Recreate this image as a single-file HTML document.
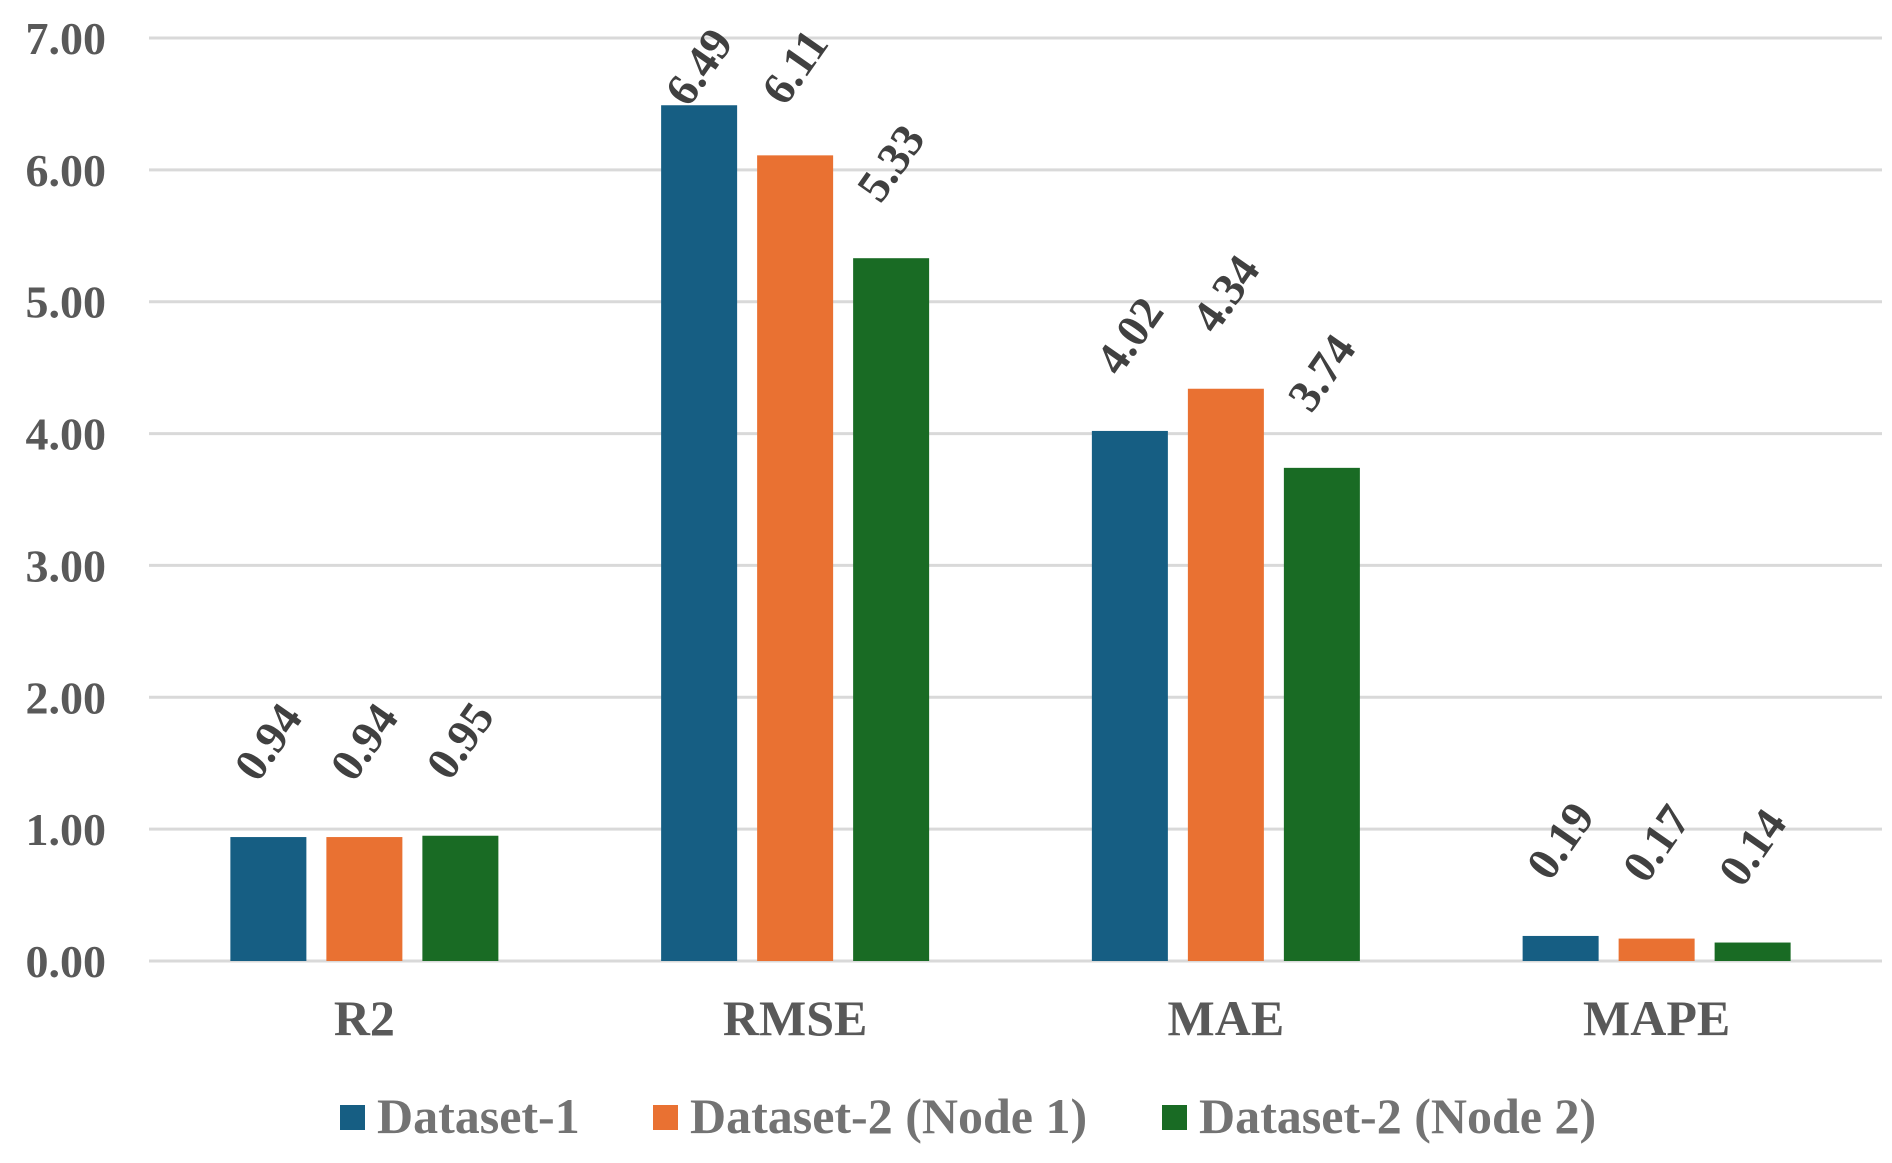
<!DOCTYPE html>
<html><head><meta charset="utf-8"><style>
html,body{margin:0;padding:0;background:#fff;}
svg{display:block;}
svg text{font-family:"Liberation Serif","DejaVu Serif",serif;font-weight:bold;}
</style></head><body>
<svg id="chart" width="1892" height="1163" viewBox="0 0 1892 1163" xmlns="http://www.w3.org/2000/svg"></svg>
<script>
const categories = ["R2", "RMSE", "MAE", "MAPE"];
const seriesNames = ["Dataset-1", "Dataset-2 (Node 1)", "Dataset-2 (Node 2)"];
const dataset1 = [0.94, 6.49, 4.02, 0.19];
const node1 = [0.94, 6.11, 4.34, 0.17];
const node2 = [0.95, 5.33, 3.74, 0.14];
const yTicks = [0, 1, 2, 3, 4, 5, 6, 7];
const series = [dataset1, node1, node2];
const colors = ["#165E83", "#E97132", "#196B24"];

const svg = document.getElementById('chart');
const NS = "http://www.w3.org/2000/svg";
const plotL = 149, plotR = 1882, groupR = 1872, y0 = 961, y7 = 38;
function yScale(v){ return y0 - (v/7)*(y0-y7); }
const groupW = (groupR-plotL)/categories.length;
const barW = 76, step = 96;
function xCenter(i){ return plotL + groupW*(i+0.5); }
function mk(tag, attrs){ const e=document.createElementNS(NS,tag); for(const k in attrs) e.setAttribute(k,attrs[k]); svg.appendChild(e); return e; }

yTicks.forEach(t=>{
  const y=yScale(t);
  const g=mk('line',{x1:plotL,x2:plotR,y1:y,y2:y,stroke:'#d9d9d9','stroke-width':3});
  
  
  const tx=mk('text',{x:106,y:y+16,'text-anchor':'end','font-size':46,fill:'#595959'});
  tx.textContent=t.toFixed(2);
  
  
});

categories.forEach((c,i)=>{
  const cx=xCenter(i);
  series.forEach((s,j)=>{
    const v=s[i];
    const bx=cx+(j-1)*step-barW/2;
    const top=yScale(v);
    const r=mk('rect',{x:bx,y:top,width:barW,height:y0-top,fill:colors[j]});
    
    
    const lx=bx+barW/2, ly=Math.max(top-95,67);
    const t=mk('text',{x:lx,y:ly+15,'text-anchor':'middle','font-size':46,fill:'#404040',transform:'rotate(-55 '+lx+' '+ly+')'});
    t.textContent=v.toFixed(2);
    
    
  });
  const xl=mk('text',{x:cx,y:1035,'text-anchor':'middle','font-size':50,fill:'#595959'});
  xl.textContent=c;
  
  
});

const legX=[340,653,1162];
seriesNames.forEach((n,j)=>{
  const sq=mk('rect',{x:legX[j],y:1105,width:25,height:25,fill:colors[j]});
  
  
  const t=mk('text',{x:legX[j]+37,y:1133,'font-size':50,fill:'#737373'});
  t.textContent=n;
  
  
});
</script>
</body></html>
